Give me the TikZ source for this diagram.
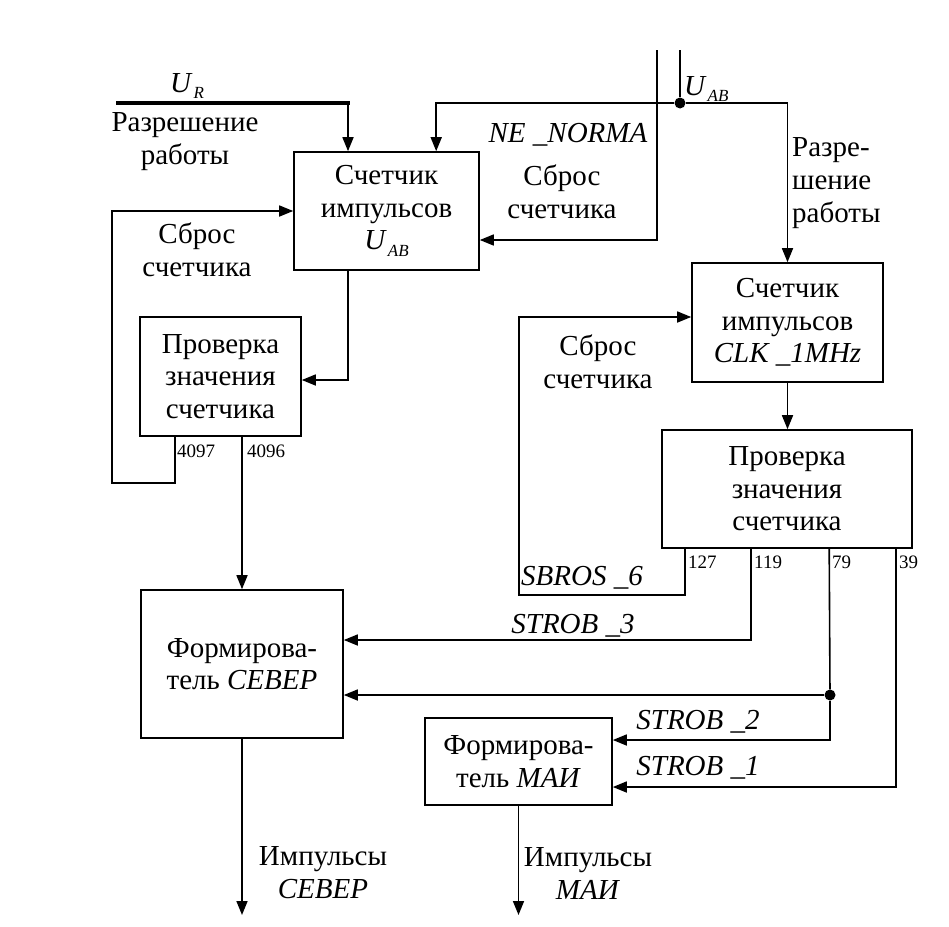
\documentclass[tikz,border=0pt]{standalone}
\usepackage{fontspec}
\setmainfont{Liberation Serif}
\usetikzlibrary{arrows.meta,calc}
\newcommand\mysub[1]{\kern1pt\raisebox{-0.5ex}{\fontsize{17}{17}\selectfont\textit{#1}}}
\begin{document}
\begin{tikzpicture}[x=1pt,y=-1pt,
  box/.style={draw,line width=1.6pt,align=center,inner sep=0pt,font=\fontsize{29}{32.5}\selectfont},
  lbl/.style={align=center,inner sep=0pt,font=\fontsize{29}{33}\selectfont},
  num/.style={inner sep=0pt,anchor=west,font=\fontsize{19}{20}\selectfont},
  wire/.style={line width=1.6pt},
  arr/.style={wire,-{Triangle[length=14pt,width=11pt]}},
  jdot/.style={circle,fill,inner sep=0pt,minimum size=11pt}]
\useasboundingbox (0,0) rectangle (949,926);
% boxes
\node[box,minimum width=185pt,minimum height=118pt] (A) at (386.5,211) {Счетчик\\импульсов\\\textit{U}\mysub{AB}};
\node[box,minimum width=161pt,minimum height=119pt] (B) at (220.5,376.5) {Проверка\\значения\\счетчика};
\node[box,minimum width=191pt,minimum height=119pt] (C) at (787.5,322.5) {Счетчик\\импульсов\\\textit{CLK \_1MHz}};
\node[box,minimum width=250pt,minimum height=118pt] (D) at (787,489) {Проверка\\значения\\счетчика};
\node[box,minimum width=202pt,minimum height=148pt] (E) at (242,664) {Формирова-\\тель \textit{СЕВЕР}};
\node[box,minimum width=187pt,minimum height=87pt] (F) at (518.5,761.5) {Формирова-\\тель \textit{МАИ}};
% junctions and free ends
\coordinate (ur) at (116,103);
\coordinate (urc) at (348,103);
\node[jdot] (j1) at (680,103) {};
\coordinate (uabtop) at (680,50);
\coordinate (nntop) at (657,50);
\coordinate (l1) at (112,483);
\coordinate (l2) at (519,595);
\node[jdot] (j2) at (830,695) {};
\coordinate (o1) at (242,915);
\coordinate (o2) at (518.5,915);
% connectors
\draw[line width=3.2pt] (ur) -- ([xshift=1.6pt]urc);
\draw[arr] (urc) -- (A.north -| urc);
\draw[wire] (uabtop) -- (j1);
\draw[arr] (j1) -| ([xshift=143pt]A.north west);
\draw[arr] (j1) -| (C.north);
\draw[arr] (nntop) |- ([yshift=-29pt]A.east);
\draw[arr] ([xshift=36pt]B.south west) |- (l1) |- (A.west);
\draw[arr] (A.south -| urc) |- ([yshift=-3.5pt]B.east);
\draw[arr] (B.south -| E.north) -- (E.north);
\draw[arr] ([xshift=24pt]D.south west) |- (l2) |- ([yshift=5.5pt]C.west);
\draw[arr] (C.south) -- (D.north -| C.south);
\draw[arr] ([xshift=90pt]D.south west) |- ([yshift=24pt]E.east);
\draw[wire] ([xshift=168pt]D.south west) -- (j2);
\draw[arr] (j2) -- (E.east |- j2);
\draw[arr] (j2) |- ([yshift=21.5pt]F.east);
\draw[arr] ([xshift=235pt]D.south west) |- ([yshift=-25.5pt]F.east);
\draw[arr] (E.south) -- (o1);
\draw[arr] (F.south) -- (o2);
% labels
\node[lbl] (tur) at (187,86) {\textit{U}\mysub{R}};
\node[lbl] (tr1) at (185,142) {Разрешение\\работы};
\node[lbl] (ts1) at (197,250) {Сброс\\счетчика};
\node[lbl] (tnn) at (568,135) {\textit{NE \_NORMA}};
\node[lbl] (ts2) at (562,192) {Сброс\\счетчика};
\node[lbl,anchor=west] (tuab) at (684,89) {\textit{U}\mysub{AB}};
\node[lbl,align=left,anchor=west] (tr2) at (792,183) {Разре-\\шение\\работы};
\node[lbl] (ts3) at (598,362) {Сброс\\счетчика};
\node[lbl,anchor=west] (tsb) at (521,578) {\textit{SBROS \_6}};
\node[num] (n4097) at (177,451) {4097};
\node[num] (n4096) at (247,451) {4096};
\node[num] (n127) at (688,562) {127};
\node[num] (n119) at (754,562) {119};
\node[num] (n79) at (832,562) {79};
\node[num] (n39) at (899,562) {39};
\node[lbl] (st3) at (573,626) {\textit{STROB \_3}};
\node[lbl] (st2) at (698,722) {\textit{STROB \_2}};
\node[lbl] (st1) at (698,768) {\textit{STROB \_1}};
\node[lbl] (ti1) at (323,873) {Импульсы\\\textit{СЕВЕР}};
\node[lbl] (ti2) at (588,873) {Импульсы\\\textit{МАИ}};
\end{tikzpicture}
\end{document}
